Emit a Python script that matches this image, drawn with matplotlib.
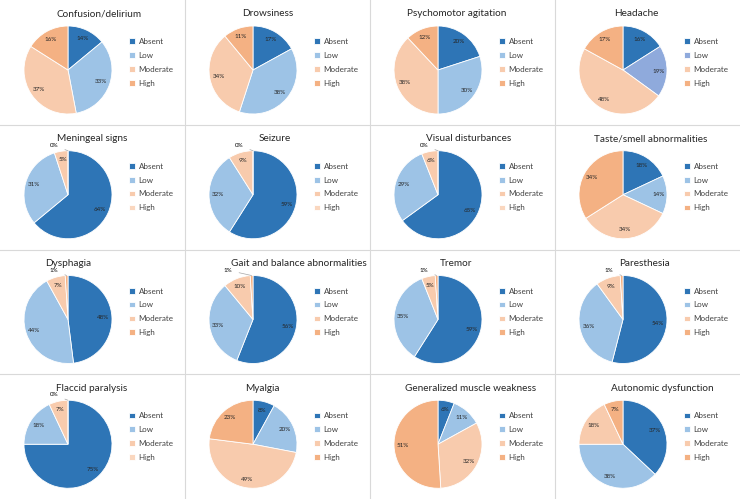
import numpy as np
import matplotlib
matplotlib.use('Agg')
import matplotlib.pyplot as plt
from matplotlib.lines import Line2D

# データ（画像から読み取り、%）
titles = [
    'Confusion/delirium', 'Drowsiness', 'Psychomotor agitation', 'Headache',
    'Meningeal signs', 'Seizure', 'Visual disturbances', 'Taste/smell abnormalities',
    'Dysphagia', 'Gait and balance abnormalities', 'Tremor', 'Paresthesia',
    'Flaccid paralysis', 'Myalgia', 'Generalized muscle weakness', 'Autonomic dysfunction',
]
categories = ['Absent', 'Low', 'Moderate', 'High']
absent = [14, 17, 20, 16, 64, 59, 65, 18, 48, 56, 59, 54, 75, 8, 6, 37]
low = [33, 38, 30, 19, 31, 32, 29, 14, 44, 33, 35, 36, 18, 20, 11, 38]
moderate = [37, 34, 38, 48, 5, 9, 6, 34, 7, 10, 5, 9, 7, 49, 32, 18]
high = [16, 11, 12, 17, 0, 0, 0, 34, 1, 1, 1, 1, 0, 23, 51, 7]

base_colors = ['#2E75B6', '#9DC3E6', '#F8CBAD', '#F4B183']

# タイトルの中心位置（各パネル左端からのピクセル）
title_x = [99, 83, 87, 81, 92, 90, 99, 96, 68, 114, 86, 89, 92, 77, 101, 107]

plt.rcParams['font.family'] = ['Lato', 'DejaVu Sans']

W, H = 740, 499
fig = plt.figure(figsize=(W / 100, H / 100), dpi=100)
fig.patch.set_facecolor('white')

pw, ph = 185, H / 4

for i, title in enumerate(titles):
    r, c = divmod(i, 4)
    left = c * pw
    top = r * ph
    vals = [absent[i], low[i], moderate[i], high[i]]
    colors = list(base_colors)
    if title == 'Headache':
        colors[1] = '#8FAADC'
    if high[i] == 0:
        colors[3] = '#FAD7BF'

    cx, cy, rad = left + 68, top + 70, 44
    ax = fig.add_axes([(cx - rad) / W, 1 - (cy + rad) / H, 2 * rad / W, 2 * rad / H])
    wedges, _ = ax.pie(vals, colors=colors, startangle=90, counterclock=False,
                       wedgeprops=dict(edgecolor='white', linewidth=0.6))
    ax.set_xlim(-1, 1)
    ax.set_ylim(-1, 1)
    ax.set_aspect('equal')

    # パーセントラベル
    total = sum(vals)
    start = 90.0
    for v in vals:
        sweep = 360.0 * v / total
        mid = np.deg2rad(start - sweep / 2)
        start -= sweep
        if v <= 1:
            xm, ym = np.cos(mid), np.sin(mid)
            tx = -0.57 if len(title) > 25 else -0.32
            ax.annotate(f'{v}%', xy=(xm, ym), xytext=(tx, 1.12), fontsize=4.5,
                        ha='center', va='center', annotation_clip=False,
                        arrowprops=dict(arrowstyle='-', color='#A6A6A6', lw=0.5,
                                        shrinkA=3, shrinkB=0))
        else:
            d = 0.8 if v >= 5 else 0.85
            ax.text(d * np.cos(mid), d * np.sin(mid), f'{v}%', fontsize=4.5,
                    ha='center', va='center', color='#262626')

    fig.text((left + title_x[i]) / W, 1 - (top + 14) / H, title, fontsize=7.2,
             ha='center', va='center', color='#262626')

    ax.legend(wedges, categories, loc='upper left', frameon=False,
              bbox_to_anchor=((left + 129) / W, 1 - (top + 38) / H),
              bbox_transform=fig.transFigure, fontsize=5.8,
              handlelength=0.7, handleheight=0.7, handletextpad=0.5,
              labelspacing=0.85, borderpad=0, borderaxespad=0,
              labelcolor='#404040')

# パネルの区切り線
for k in range(1, 4):
    fig.add_artist(Line2D([k * pw / W, k * pw / W], [0, 1], color='#D9D9D9', lw=0.8))
    fig.add_artist(Line2D([0, 1], [1 - k * ph / H, 1 - k * ph / H], color='#D9D9D9', lw=0.8))

fig.savefig('out.png', dpi=100, facecolor='white')
